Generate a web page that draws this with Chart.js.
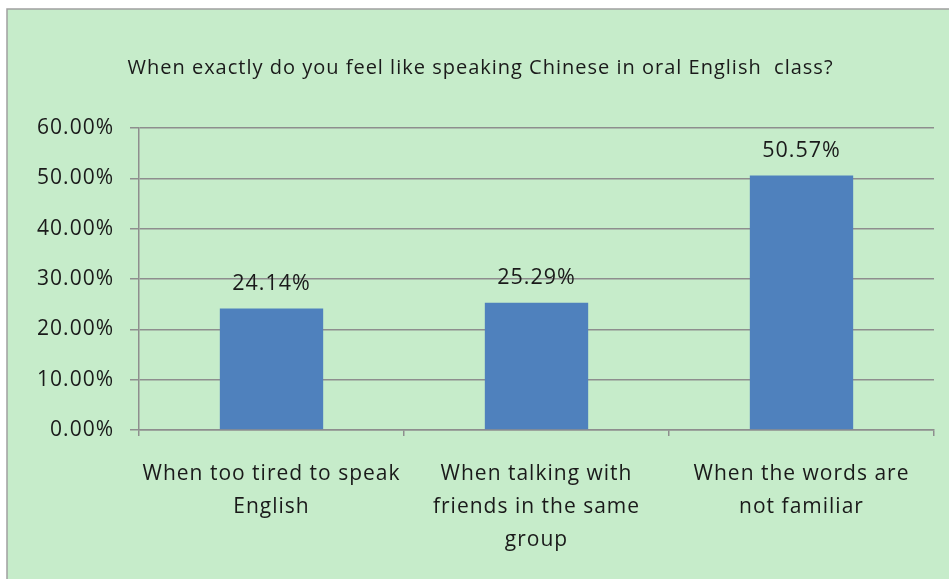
<!DOCTYPE html>
<html>
<head>
<meta charset="utf-8">
<script src="https://cdn.jsdelivr.net/npm/chart.js@4"></script>
<style>
    html, body { margin: 0; padding: 0; background: #ffffff; }
    #wrap { width: 949px; height: 579px; }
</style>
</head>
<body>
<div id="wrap"><canvas id="speakChart"></canvas></div>
<script>
// data
const categories = [
    ["When too tired to speak", "English"],
    ["When talking with", "friends in the same", "group"],
    ["When the words are", "not familiar"]
];
const percentValues = [24.14, 25.29, 50.57];
const yTicks = [0, 10, 20, 30, 40, 50, 60];

const chartTitle = "When exactly do you feel like speaking Chinese in oral English  class?";
const fontName = "'Open Sans', sans-serif";
const textColor = "#1a1a1a";
const gridColor = "#8e8e8e";

// green panel with border on top and left
const panelBg = {
    id: "panelBg",
    beforeDraw(chart) {
        const ctx = chart.ctx;
        ctx.save();
        ctx.fillStyle = "#c6ecca";
        ctx.fillRect(7, 9, chart.width - 7, chart.height - 9);
        ctx.strokeStyle = "#a0a0a0";
        ctx.lineWidth = 1.5;
        ctx.beginPath();
        ctx.moveTo(7, chart.height);
        ctx.lineTo(7, 9);
        ctx.lineTo(chart.width, 9);
        ctx.stroke();
        ctx.restore();
        // the original text is a little spaced out
        ctx.letterSpacing = "1px";
    }
};

// value labels above the bars
const valueLabels = {
    id: "valueLabels",
    afterDatasetsDraw(chart) {
        const ctx = chart.ctx;
        const meta = chart.getDatasetMeta(0);
        ctx.save();
        ctx.letterSpacing = "1px";
        ctx.font = "21.5px " + fontName;
        ctx.fillStyle = textColor;
        ctx.textAlign = "center";
        ctx.textBaseline = "middle";
        meta.data.forEach((bar, i) => {
            ctx.fillText(percentValues[i].toFixed(2) + "%", bar.x, bar.y - 25);
        });
        ctx.restore();
    }
};

new Chart(document.getElementById("speakChart"), {
    type: "bar",
    data: {
        labels: categories,
        datasets: [{
            data: percentValues,
            backgroundColor: "#4f81bd",
            borderWidth: 0,
            categoryPercentage: 0.39,
            barPercentage: 1.0
        }]
    },
    options: {
        responsive: true,
        maintainAspectRatio: false,
        animation: false,
        devicePixelRatio: 1,
        layout: { padding: { left: 27, right: 15, top: 0, bottom: 0 } },
        plugins: {
            legend: { display: false },
            tooltip: { enabled: false },
            title: {
                display: true,
                text: chartTitle,
                color: textColor,
                font: { family: fontName, size: 20, weight: "normal", lineHeight: 1.2 },
                padding: { top: 56, bottom: 48 }
            }
        },
        scales: {
            x: {
                afterFit(scale) { scale.height = 149; },
                grid: {
                    offset: true,
                    drawOnChartArea: false,
                    color: gridColor,
                    lineWidth: 1.5,
                    tickLength: 6
                },
                border: { color: gridColor, width: 1.5 },
                ticks: {
                    color: textColor,
                    font: { family: fontName, size: 21, lineHeight: 1.57 },
                    padding: 22,
                    maxRotation: 0,
                    autoSkip: false
                }
            },
            y: {
                min: 0,
                max: 60,
                afterFit(scale) { scale.width = 112; },
                afterBuildTicks(scale) { scale.ticks = yTicks.map(v => ({ value: v })); },
                grid: {
                    color: gridColor,
                    lineWidth: 1.5,
                    tickLength: 9
                },
                border: { color: gridColor, width: 1.5 },
                ticks: {
                    color: textColor,
                    font: { family: fontName, size: 21 },
                    padding: 16,
                    callback: v => v.toFixed(2) + "%"
                }
            }
        }
    },
    plugins: [panelBg, valueLabels]
});
</script>
</body>
</html>
